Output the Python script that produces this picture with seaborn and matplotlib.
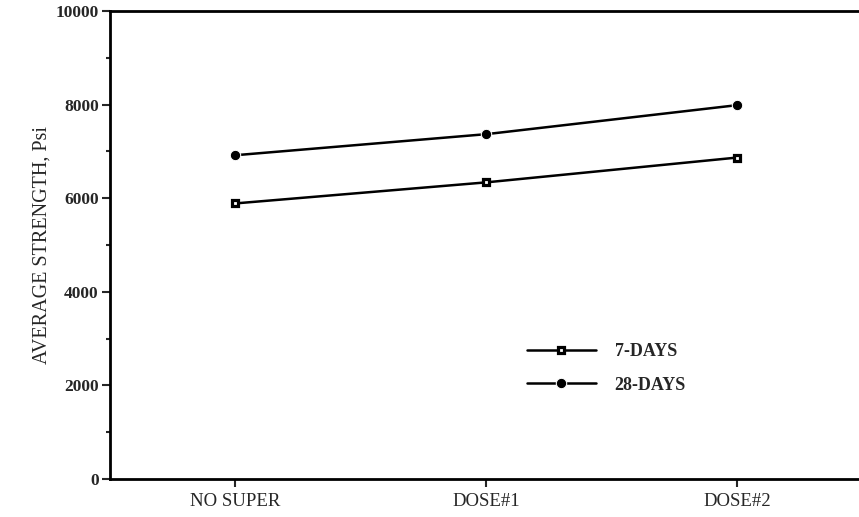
import pandas as pd
import numpy as np
import seaborn as sns
import matplotlib.pyplot as plt

categories = ['NO SUPER', 'DOSE#1', 'DOSE#2']
days7 = [5890, 6340, 6870]
days28 = [6920, 7370, 7990]
y_ticks = [0, 2000, 4000, 6000, 8000, 10000]

df = pd.DataFrame({
    'mix': categories * 2,
    'pos': list(range(len(categories))) * 2,
    'strength': days7 + days28,
    'age': ['7-DAYS'] * 3 + ['28-DAYS'] * 3,
})

sns.set_style('white')
plt.rcParams['font.family'] = 'serif'
plt.rcParams['font.serif'] = ['Liberation Serif', 'Times New Roman', 'DejaVu Serif']

fig = plt.figure(figsize=(8.59, 5.17), dpi=100)
ax = fig.add_axes([0.128, 0.0735, 0.872, 0.905])

sns.lineplot(data=df, x='pos', y='strength', hue='age', style='age',
             palette={'7-DAYS': 'black', '28-DAYS': 'black'},
             markers={'7-DAYS': 's', '28-DAYS': 'o'}, dashes=False,
             linewidth=1.8, markersize=7.5, ax=ax)
for line in ax.lines:
    if line.get_marker() == 's':
        line.set_markerfacecolor('white')
        line.set_markeredgecolor('black')
        line.set_markeredgewidth(2.3)
        line.set_markersize(4.5)

ax.set_xlim(-0.5, 2.486)
ax.set_ylim(0, 10000)
ax.set_xticks(range(len(categories)))
ax.set_xticklabels(categories, fontsize=13.5)
ax.set_yticks(y_ticks)
ax.set_yticklabels([str(v) for v in y_ticks], fontsize=12.5, fontweight='bold')
ax.set_yticks(np.arange(1000, 10000, 2000), minor=True)
ax.tick_params(axis='both', which='major', direction='out', length=6, width=1.5,
               left=True, bottom=True, pad=2)
ax.tick_params(axis='x', which='major', pad=4)
ax.tick_params(axis='y', which='minor', direction='out', length=3, width=1.5, left=True)
ax.set_xlabel('')
ax.set_ylabel('AVERAGE STRENGTH, Psi', fontsize=14.5, labelpad=3)

ax.spines['right'].set_visible(False)
for s in ['left', 'bottom', 'top']:
    ax.spines[s].set_linewidth(2)
    ax.spines[s].set_color('black')

handles, labels = ax.get_legend_handles_labels()
leg = ax.legend(handles, labels, loc='center', bbox_to_anchor=(0.663, 0.236),
                frameon=False, handlelength=3.8, handletextpad=1.05,
                labelspacing=0.9, prop={'weight': 'bold', 'size': 13})

plt.savefig('out.png', dpi=100)
